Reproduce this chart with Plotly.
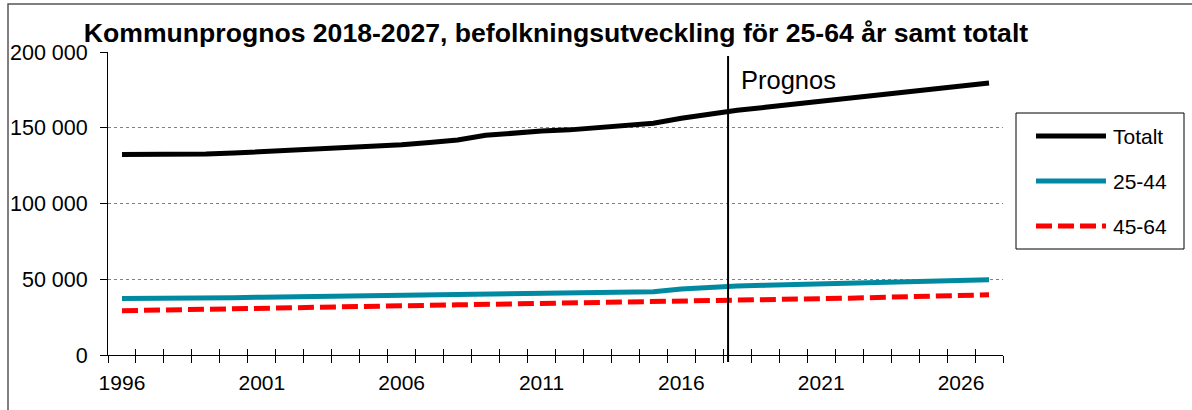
import plotly.graph_objects as go

FONT = "Liberation Sans, Arial, sans-serif"

years = list(range(1996, 2028))
totalt = [132300, 132200, 132000, 132600, 133300, 134100, 135000, 135900, 136800, 137800,
          138800, 140200, 141900, 145000, 146700, 147800, 148600, 150200, 151800, 153000,
          156300, 159200, 161500, 163500, 165500, 167500, 169500, 171500, 173500, 175500,
          177600, 179600]
ages_25_44 = [37300, 37300, 37100, 37400, 37800, 38200, 38500, 38700, 38800, 38900,
              39100, 39400, 39800, 40300, 40600, 40800, 41000, 41300, 41600, 41800,
              43600, 44800, 45500, 46000, 46500, 47000, 47500, 47900, 48300, 48700,
              49200, 49700]
ages_45_64 = [29200, 29600, 29900, 30300, 30700, 31000, 31300, 31600, 31900, 32200,
              32500, 32800, 33100, 33400, 33700, 33900, 34100, 34400, 34600, 34900,
              35000, 35300, 35700, 36100, 36600, 37100, 37500, 38000, 38500, 38900,
              39300, 39700]
series_names = ["Totalt", "25-44", "45-64"]
label_years = [1996, 2001, 2006, 2011, 2016, 2021, 2026]
y_ticks = [0, 50000, 100000, 150000, 200000]
y_ticktext = ["0", "50 000", "100 000", "150 000", "200 000"]
prognos_start = 2017.67

colors = ["#000000", "#008aa1", "#ff0000"]
dashes = ["solid", "solid", "16px,6px"]

x_lo, x_hi = years[0] - 0.5, years[-1] + 0.5
boundaries = [y - 0.5 for y in years] + [years[-1] + 0.5]

fig = go.Figure()
for name, vals, col, dash in zip(series_names, [totalt, ages_25_44, ages_45_64], colors, dashes):
    fig.add_trace(go.Scatter(x=years, y=vals, name=name, mode="lines",
                             line=dict(color=col, width=5, dash=dash),
                             showlegend=False))
# helper traces so the overlay axes get drawn
for ax in ["x2", "x3"]:
    fig.add_trace(go.Scatter(x=[years[0]], y=[None], xaxis=ax, yaxis="y",
                             showlegend=False, hoverinfo="skip"))

# plot area in pixels: x 108..1003, y 52..355
L, R, T, B = 108, 1003, 52, 355


def px(x):
    return (x - L) / (R - L)


def py(y):
    return (B - y) / (B - T)


fig.update_layout(
    width=1192, height=410,
    margin=dict(l=L, r=1192 - R, t=T, b=410 - B),
    paper_bgcolor="white", plot_bgcolor="white",
    font=dict(family=FONT, size=21, color="black"),
    title=dict(text="<b>Kommunprognos 2018-2027, befolkningsutveckling för 25-64 år samt totalt</b>",
               x=556 / 1192, xanchor="center", y=1 - 33 / 410, yanchor="middle",
               font=dict(family=FONT, size=26.6, color="black")),
    xaxis=dict(range=[x_lo, x_hi], tickmode="array", tickvals=boundaries, showticklabels=False,
               ticks="outside", ticklen=7, tickcolor="black", tickwidth=1, automargin=False,
               showline=True, linecolor="black", linewidth=1, showgrid=False, zeroline=False),
    xaxis2=dict(range=[x_lo, x_hi], overlaying="x", anchor="y", side="bottom",
                tickmode="array", tickvals=boundaries, showticklabels=False, automargin=False,
                ticks="inside", ticklen=6, tickcolor="black", tickwidth=1,
                showline=False, showgrid=False, zeroline=False),
    xaxis3=dict(range=[x_lo, x_hi], overlaying="x", anchor="y", side="bottom",
                tickmode="array", tickvals=label_years, ticktext=[str(v) for v in label_years],
                ticks="", showline=False, showgrid=False, zeroline=False, automargin=False,
                ticklabelstandoff=13, tickfont=dict(size=21)),
    yaxis=dict(range=[0, 200000], tickmode="array", tickvals=y_ticks, ticktext=y_ticktext,
               ticks="outside", ticklen=7, tickcolor="black", ticklabelstandoff=8,
               showline=True, linecolor="black", linewidth=1, automargin=False,
               showgrid=True, gridcolor="#808080", griddash="dot", gridwidth=1,
               zeroline=False, tickfont=dict(size=21.5)),
)

# outer chart border (left and top visible)
fig.add_shape(type="rect", xref="paper", yref="paper",
              x0=px(8), x1=px(1260), y0=py(480), y1=py(4),
              line=dict(color="#555555", width=1.5), fillcolor="rgba(0,0,0,0)")

# prognosis marker
xl = (prognos_start - x_lo) / (x_hi - x_lo)
fig.add_shape(type="line", xref="paper", yref="paper", x0=xl, x1=xl, y0=py(362), y1=py(56),
              line=dict(color="black", width=2))
fig.add_annotation(text="Prognos", xref="paper", yref="paper", x=px(739), y=py(80),
                   xanchor="left", yanchor="middle", showarrow=False,
                   font=dict(family=FONT, size=25.5, color="black"))

# legend box
fig.add_shape(type="rect", xref="paper", yref="paper",
              x0=px(1016), x1=px(1184), y0=py(249), y1=py(113),
              line=dict(color="black", width=1), fillcolor="white")
for i, (name, col, dash) in enumerate(zip(series_names, colors, dashes)):
    row = 136 + 45 * i
    fig.add_shape(type="line", xref="paper", yref="paper",
                  x0=px(1036), x1=px(1106), y0=py(row), y1=py(row),
                  line=dict(color=col, width=5, dash=dash))
    fig.add_annotation(text=name, xref="paper", yref="paper", x=px(1111), y=py(row),
                       xanchor="left", yanchor="middle", showarrow=False,
                       font=dict(family=FONT, size=21, color="black"))

fig.write_html("out.html", config={"displayModeBar": False},
               post_script="document.body.style.margin='0';")
